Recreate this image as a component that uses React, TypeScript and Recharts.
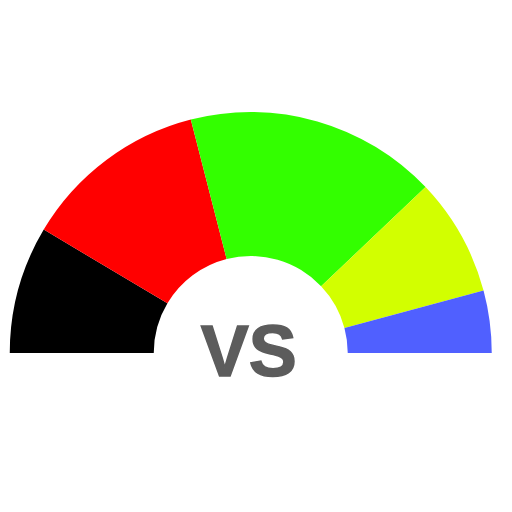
import { PieChart, Pie, Cell, Label } from 'recharts'

// Seat-style split of a half donut (degrees of 180)
const parties = ['Black', 'Red', 'Green', 'Lime', 'Blue']
const shares = [30.8, 44.8, 60.9, 28.5, 15.0]
const colors = ['#000000', '#ff0000', '#33ff00', '#d2ff00', '#5060ff']
const centerText = 'VS'

const data = parties.map((name, i) => ({ name, value: shares[i] }))

export default function App() {
  return (
    <div style={{ position: 'absolute', left: 0, top: 0, width: 512, height: 512, background: '#fff' }}>
      <PieChart width={512} height={512} margin={{ top: 0, right: 0, bottom: 0, left: 0 }}>
        <Pie
          data={data}
          dataKey="value"
          nameKey="name"
          cx={250.75}
          cy={353}
          startAngle={180}
          endAngle={0}
          innerRadius={97}
          outerRadius={241}
          stroke="none"
          isAnimationActive={false}
        >
          {data.map((d, i) => (
            <Cell key={d.name} fill={colors[i]} />
          ))}
          <Label
            position="center"
            content={(props: any) => {
              const vb = props.viewBox || {}
              const cx = vb.cx ?? 250.75
              const cy = vb.cy ?? 353
              return (
                <text
                  x={cx - 2}
                  y={cy + 23}
                  textAnchor="middle"
                  fill="#5c5c5c"
                  stroke="#5c5c5c"
                  strokeWidth={1.5}
                  fontFamily="'Liberation Sans', Arial, sans-serif"
                  fontWeight={700}
                  fontSize={72}
                >
                  {centerText}
                </text>
              )
            }}
          />
        </Pie>
      </PieChart>
    </div>
  )
}
